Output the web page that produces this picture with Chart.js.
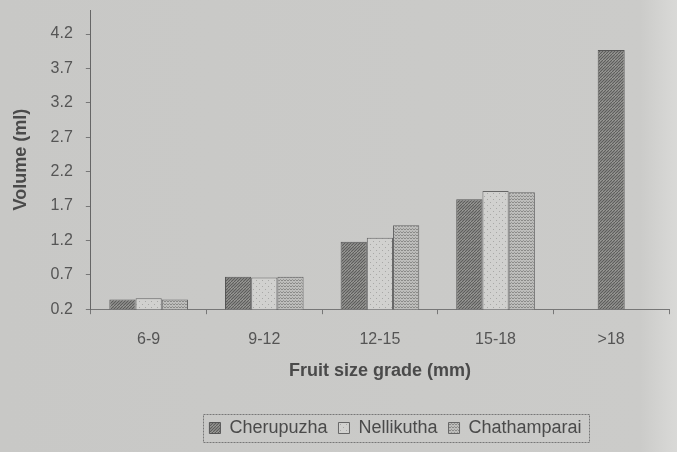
<!DOCTYPE html>
<html>
<head>
<meta charset="utf-8">
<script src="https://cdn.jsdelivr.net/npm/chart.js@4/dist/chart.umd.min.js"></script>
<style>
  html, body { margin: 0; padding: 0; background: #c9c9c7; }
  #wrap { width: 677px; height: 452px; position: relative;
          background: linear-gradient(to right, #c8c8c6 0, #cbcbc9 640px, #d6d6d4 668px, #d9d9d7 677px); }
</style>
</head>
<body>
<div id="wrap"><canvas id="chart" width="677" height="452"></canvas></div>
<script>
const grades = ['6-9', '9-12', '12-15', '15-18', '>18'];
const cherupuzha = [0.34, 0.67, 1.18, 1.80, 3.97];
const nellikutha = [0.36, 0.66, 1.24, 1.92, null];
const chathamparai = [0.34, 0.67, 1.42, 1.90, null];
const yTicks = [0.2, 0.7, 1.2, 1.7, 2.2, 2.7, 3.2, 3.7, 4.2];

function makePattern(kind) {
    const c = document.createElement('canvas');
    c.width = 6; c.height = 6;
    const g = c.getContext('2d');
    if (kind === 'hatch') {
        g.fillStyle = '#a9a9a7';
        g.fillRect(0, 0, 6, 6);
        g.strokeStyle = '#5e5e5c';
        g.lineWidth = 1.3;
        g.beginPath();
        for (let i = -6; i <= 12; i += 3) { g.moveTo(i, 6); g.lineTo(i + 6, 0); }
        g.stroke();
    } else if (kind === 'dots') {
        g.fillStyle = '#d1d1cf';
        g.fillRect(0, 0, 6, 6);
        g.fillStyle = '#a8a8a6';
        g.fillRect(1, 1, 1, 1);
        g.fillRect(4, 4, 1, 1);
    } else {
        g.fillStyle = '#bdbdbb';
        g.fillRect(0, 0, 6, 6);
        g.strokeStyle = '#8a8a88';
        g.lineWidth = 1;
        g.beginPath();
        g.moveTo(0, 2); g.lineTo(1.5, 0.5); g.lineTo(3, 2); g.lineTo(4.5, 0.5); g.lineTo(6, 2);
        g.moveTo(0, 5); g.lineTo(1.5, 3.5); g.lineTo(3, 5); g.lineTo(4.5, 3.5); g.lineTo(6, 5);
        g.stroke();
    }
    return g.createPattern(c, 'repeat');
}

// shift the legend a bit right and frame it with a dashed box
const legendShift = 56;
const legendBox = {
    id: 'legendBox',
    afterUpdate(chart) {
        const l = chart.legend;
        l.left += legendShift;
        l.right += legendShift;
        l.legendHitBoxes.forEach(b => { b.left += legendShift; });
    },
    afterDraw(chart) {
        const boxes = chart.legend.legendHitBoxes;
        if (!boxes || !boxes.length) return;
        const left = Math.min(...boxes.map(b => b.left)) - 6;
        const right = Math.max(...boxes.map(b => b.left + b.width)) + 8;
        const top = Math.min(...boxes.map(b => b.top)) - 5;
        const bottom = Math.max(...boxes.map(b => b.top + b.height)) + 5;
        const ctx = chart.ctx;
        ctx.save();
        ctx.strokeStyle = '#777';
        ctx.lineWidth = 1;
        ctx.setLineDash([2, 1]);
        ctx.strokeRect(Math.round(left) + 0.5, Math.round(top) + 0.5, Math.round(right - left), Math.round(bottom - top));
        ctx.restore();
    }
};

const family = '"Liberation Sans", Arial, sans-serif';
const tickFont = { family: family, size: 16 };

new Chart(document.getElementById('chart').getContext('2d'), {
    type: 'bar',
    data: {
        labels: grades,
        datasets: [
            { label: 'Cherupuzha', data: cherupuzha, backgroundColor: makePattern('hatch'), borderColor: '#555', borderWidth: 1 },
            { label: 'Nellikutha', data: nellikutha, backgroundColor: makePattern('dots'), borderColor: '#666', borderWidth: 1 },
            { label: 'Chathamparai', data: chathamparai, backgroundColor: makePattern('wave'), borderColor: '#666', borderWidth: 1 }
        ]
    },
    options: {
        responsive: false,
        animation: false,
        skipNull: true,
        categoryPercentage: 0.68,
        barPercentage: 1.0,
        maxBarThickness: 27,
        layout: { padding: { left: 10, right: 8, top: 10, bottom: 5 } },
        plugins: {
            tooltip: { enabled: false },
            legend: {
                position: 'bottom',
                labels: {
                    font: { family: family, size: 18 }, color: '#4a4a4a', boxWidth: 11, boxHeight: 11,
                    padding: 11, useBorderRadius: false
                }
            }
        },
        scales: {
            x: {
                afterFit: axis => { axis.height -= 5; },
                grid: { drawOnChartArea: false, tickLength: 5, color: '#777' },
                border: { color: '#777', dash: [3, 2] },
                ticks: { font: tickFont, color: '#555', padding: 16 },
                title: { display: true, text: 'Fruit size grade (mm)', font: { family: family, size: 18, weight: 'bold' }, color: '#4a4a4a', padding: { top: 0, bottom: 26 } }
            },
            y: {
                min: 0.2,
                max: 4.55,
                afterBuildTicks: axis => { axis.ticks = yTicks.map(v => ({ value: v })); },
                afterFit: axis => { axis.paddingTop = 0; axis.paddingBottom = 0; },
                grid: { drawOnChartArea: false, tickLength: 5, color: '#777' },
                border: { color: '#666' },
                ticks: { font: tickFont, color: '#555', padding: 13, callback: v => v.toFixed(1) },
                title: { display: true, text: 'Volume (ml)', font: { family: family, size: 18, weight: 'bold' }, color: '#4a4a4a', padding: { top: 0, bottom: 6 } }
            }
        }
    },
    plugins: [legendBox]
});
</script>
</body>
</html>
